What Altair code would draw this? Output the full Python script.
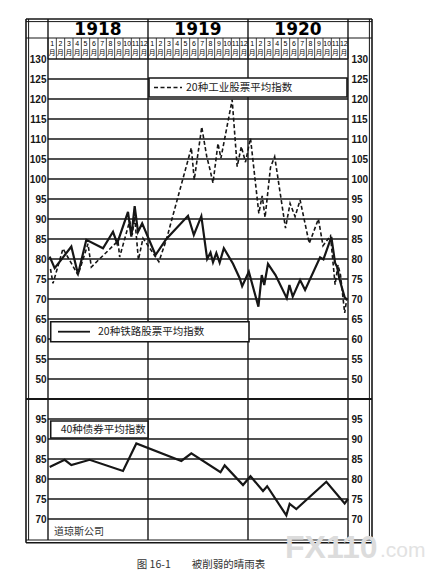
import altair as alt
import pandas as pd

INK = "#161616"
CJK = "Noto Sans CJK SC"
NUMF = "Liberation Sans"

# ---------------- data ----------------
years = ["1918", "1919", "1920"]
year_centers = [6, 18, 30]
month_names = ["1", "2", "3", "4", "5", "6", "7", "8", "9", "10", "11", "12"]
year_bounds = [0, 12, 24, 36]
top_ticks = [50, 55, 60, 65, 70, 75, 80, 85, 90, 95, 100, 105, 110, 115, 120, 125, 130]
bottom_ticks = [70, 75, 80, 85, 90, 95]

# month index: 0 = start of Jan 1918, 36 = end of Dec 1920
rail_month = [0.2, 0.8, 2.8, 3.6, 4.6, 6.6, 7.8, 8.3, 9.6, 10.0, 10.4, 10.8, 11.3, 12.9, 14.2,
              16.8, 17.5, 18.4, 19.1, 19.5, 19.8, 20.2, 20.6, 21.1, 22.2, 23.0, 23.3, 24.1, 25.25,
              25.65, 25.95, 26.4, 27.0, 27.3, 28.65, 28.97, 29.37, 30.25, 30.85, 32.65, 33.05, 34.0,
              34.45, 34.7, 34.95, 35.6, 35.9]
rail_value = [80.6, 77.7, 83.1, 76.2, 84.8, 82.7, 86.8, 83.9, 91.8, 85.6, 93.2, 86.8, 88.9, 81.0, 85.0,
              90.8, 86.0, 90.7, 80.0, 81.6, 79.2, 81.5, 79.1, 82.7, 78.8, 75.2, 73.2, 76.8, 68.1,
              76.0, 73.5, 78.8, 76.9, 76.0, 70.2, 73.5, 70.6, 74.75, 72.25, 80.4, 79.9, 85.5,
              79.0, 78.0, 75.2, 70.4, 69.8]

ind_month = [0.3, 0.6, 1.8, 3.6, 4.8, 5.2, 8.4, 8.6, 9.8, 10.1, 10.4, 10.85, 11.4, 13.3, 14.2,
             17.2, 17.55, 18.45, 19.05, 19.4, 19.8, 20.4, 20.75, 22.1, 22.7, 23.2, 23.7, 24.3, 25.3,
             25.7, 26.05, 26.7, 27.2, 28.5, 29.05, 29.65, 30.25, 31.35, 32.45, 33.0, 33.9, 34.45,
             34.8, 35.1, 35.6, 35.85]
ind_value = [77.5, 73.9, 82.6, 76.0, 83.8, 78.0, 84.5, 80.5, 89.5, 86.0, 90.5, 79.8, 85.2, 79.3, 84.8,
             107.8, 99.8, 113.0, 105.6, 102.7, 99.0, 108.9, 105.2, 119.8, 103.1, 108.1, 104.2, 110.2, 91.4,
             95.8, 90.4, 102.9, 105.6, 87.7, 93.9, 90.6, 94.75, 83.9, 90.0, 83.3, 85.8, 73.6,
             78.5, 76.0, 66.5, 70.0]

bond_month = [0.2, 2.0, 2.8, 5.0, 9.0, 10.6, 16.0, 17.2, 20.7, 21.2, 23.4, 24.3, 25.8, 26.3,
              28.6, 29.0, 29.8, 33.4, 35.6, 36.0]
bond_value = [83.0, 84.8, 83.5, 84.8, 82.0, 88.9, 84.5, 86.4, 81.7, 83.4, 78.5, 80.7, 77.0, 78.2,
              70.9, 73.8, 72.5, 79.3, 73.9, 75.0]

rail_df = pd.DataFrame({"m": rail_month, "v": rail_value})
ind_df = pd.DataFrame({"m": ind_month, "v": ind_value})
bond_df = pd.DataFrame({"m": bond_month, "v": bond_value})
months_df = pd.DataFrame({"pos": [i + 0.5 for i in range(36)], "num": month_names * 3})
yr_df = pd.DataFrame({"pos": year_centers, "year": years})
mb_df = pd.DataFrame({"b": list(range(37))})
yb_df = pd.DataFrame({"b": year_bounds})

# ---------------- layout ----------------
W, HH, HT, HB = 300, 40, 340, 140
TOP_DOM = [45, 130]
BOT_DOM = [65, 100]
FL, FR = -22, 324
one = alt.Data(values=[{}])
xs = alt.Scale(domain=[0, 36], nice=False, zero=False)


def X(f):
    return alt.X(f, type="quantitative", scale=xs, axis=None)


def hline(y, x1=FL, x2=FR, w=1.2):
    return alt.Chart(one).mark_rule(color=INK, strokeWidth=w).encode(
        x=alt.value(x1), x2=alt.value(x2), y=alt.value(y))


def vline(x, y1, y2, w=1.5):
    return alt.Chart(one).mark_rule(color=INK, strokeWidth=w).encode(
        x=alt.value(x), y=alt.value(y1), y2=alt.value(y2))


def frame_sides(h):
    return [vline(FL, 0, h, 1.6), vline(FL + 2.6, 0, h, 1.0),
            vline(FR, 0, h, 1.6), vline(FR - 2.6, 0, h, 1.0)]


def year_rules(h):
    return alt.Chart(yb_df).mark_rule(color=INK, strokeWidth=1.4).encode(
        x=X("b:Q"), y=alt.value(0), y2=alt.value(h))


def grid(ticks, dom, h):
    # horizontal ruling of the chart paper at every tick level (same linear mapping as the y scale)
    lo, hi = dom
    return [hline((hi - t) / (hi - lo) * h, 0, W, 1.3) for t in ticks]


def axis(orient, values):
    return alt.Axis(orient=orient, values=values, grid=False, domain=False, ticks=False,
                    labelPadding=2 if orient == "left" else 3,
                    labelFont=NUMF, labelFontSize=10, labelFontWeight="bold", labelColor=INK,
                    minExtent=40, maxExtent=40, title=None)


def text(t, x, y, size=10.5, align="left", color="#222", font=CJK, weight="normal"):
    return alt.Chart(one).mark_text(text=t, align=align, baseline="middle", font=font,
                                    fontSize=size, color=color, fontWeight=weight).encode(
        x=alt.value(x), y=alt.value(y))


def box(x1, x2, y1, y2):
    return alt.Chart(one).mark_rect(fill="white", stroke=INK, strokeWidth=1.6).encode(
        x=alt.value(x1), x2=alt.value(x2), y=alt.value(y1), y2=alt.value(y2))


# ---------------- header ----------------
header = alt.layer(
    hline(0, w=1.6), hline(2.6, w=1.0), hline(19, w=1.2),
    *frame_sides(HH),
    alt.Chart(mb_df).mark_rule(color=INK, strokeWidth=0.8).encode(
        x=X("b:Q"), y=alt.value(19), y2=alt.value(HH)),
    year_rules(HH),
    alt.Chart(yr_df).mark_text(font="DejaVu Sans", fontSize=17, fontWeight="bold", color="#000",
                               baseline="middle").encode(x=X("pos:Q"), y=alt.value(11), text="year:N"),
    alt.Chart(months_df).mark_text(font=NUMF, fontSize=7, color="#000", baseline="middle").encode(
        x=X("pos:Q"), y=alt.value(24.5), text="num:N"),
    alt.Chart(months_df).mark_text(font=CJK, fontSize=6.8, color="#000", baseline="middle",
                                   text="月").encode(x=X("pos:Q"), y=alt.value(33.5)),
).properties(width=W, height=HH)

# ---------------- top panel ----------------
yt = alt.Scale(domain=TOP_DOM, nice=False, zero=False)
top = alt.layer(
    *frame_sides(HT),
    year_rules(HT),
    *grid(top_ticks, TOP_DOM, HT),
    box(101, 299, 19, 38),
    alt.Chart(one).mark_rule(color=INK, strokeWidth=1.6, strokeDash=[4, 2.5]).encode(
        x=alt.value(106), x2=alt.value(134), y=alt.value(28.5)),
    text("20种工业股票平均指数", 138, 28.5),
    box(2.7, 201, 262.7, 282.7),
    alt.Chart(one).mark_rule(color=INK, strokeWidth=1.8).encode(
        x=alt.value(10), x2=alt.value(42), y=alt.value(272.7)),
    text("20种铁路股票平均指数", 50, 272.7),
    alt.Chart(ind_df).mark_line(color=INK, strokeWidth=1.6, strokeDash=[4, 2.5]).encode(
        x=X("m:Q"), y=alt.Y("v:Q", scale=yt, axis=None)),
    alt.Chart(rail_df).mark_line(color=INK, strokeWidth=2.2).encode(
        x=X("m:Q"), y=alt.Y("v:Q", scale=yt, axis=axis("left", top_ticks))),
    alt.Chart(ind_df).mark_point(opacity=0).encode(
        x=X("m:Q"), y=alt.Y("v:Q", scale=yt, axis=axis("right", top_ticks))),
).resolve_axis(y="independent").properties(width=W, height=HT)

# ---------------- bottom panel ----------------
yb = alt.Scale(domain=BOT_DOM, nice=False, zero=False)
bottom = alt.layer(
    hline(0, w=2.0), hline(141, w=1.0), hline(143.7, w=1.6),
    *[vline(FL, 0, 143.7, 1.6), vline(FL + 2.6, 0, 141, 1.0),
      vline(FR, 0, 143.7, 1.6), vline(FR - 2.6, 0, 141, 1.0)],
    year_rules(141),
    *grid(bottom_ticks, BOT_DOM, HB),
    box(2.7, 100, 22, 39),
    text("40种债券平均指数", 12.7, 30.5),
    text("道琼斯公司", 6, 133, size=10, color="#333"),
    alt.Chart(bond_df).mark_line(color=INK, strokeWidth=2.2).encode(
        x=X("m:Q"), y=alt.Y("v:Q", scale=yb, axis=axis("left", bottom_ticks))),
    alt.Chart(bond_df).mark_point(opacity=0).encode(
        x=X("m:Q"), y=alt.Y("v:Q", scale=yb, axis=axis("right", bottom_ticks))),
    text("FX110", 237, 149, size=32, color="#dcdcdc", font=NUMF, weight="bold"),
    text(".com", 332, 152, size=21, color="#e2e2e2", font=NUMF),
    text("图 16-1\u3000\u3000被削弱的晴雨表", 153, 166, size=10.5, align="center", color="#333"),
).resolve_axis(y="independent").properties(width=W, height=HB)

chart = alt.vconcat(header, top, bottom, spacing=0, bounds="flush").properties(
    padding={"left": 0, "top": 10, "right": 0, "bottom": 0},
    background="white",
).configure_view(stroke=None)

chart.save("out.html", embed_options={"renderer": "svg", "actions": False})
